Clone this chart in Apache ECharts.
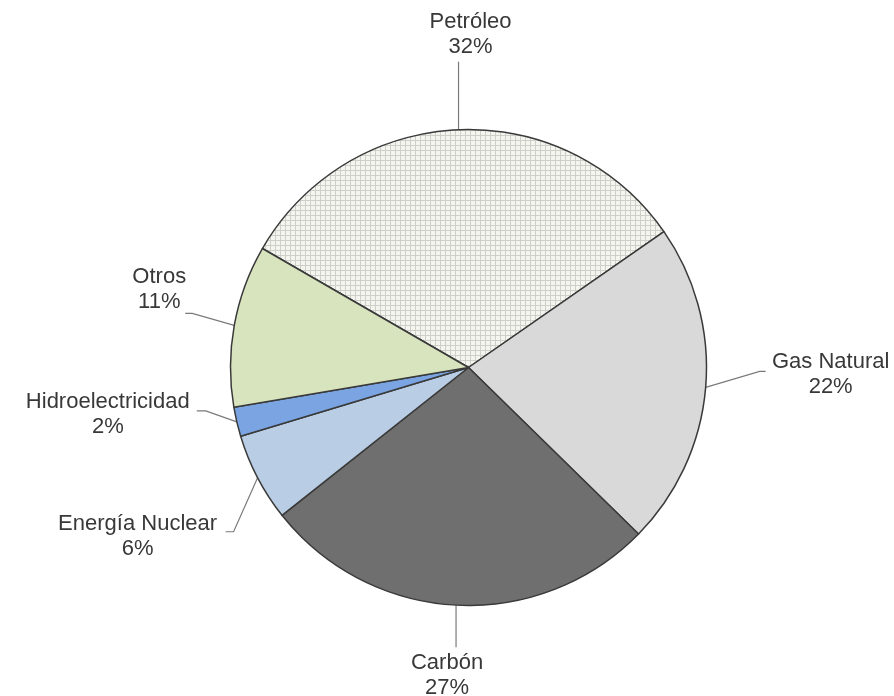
<!DOCTYPE html>
<html>
<head>
<meta charset="utf-8">
<style>
  html, body { margin: 0; padding: 0; background: #ffffff; }
  #chart { width: 894px; height: 696px; }
</style>
<script src="https://cdn.jsdelivr.net/npm/echarts@6/dist/echarts.min.js"></script>
</head>
<body>
<div id="chart"></div>
<script>
// Consumo mundial de energía primaria por fuente (%)
const categories = ['Petróleo', 'Gas Natural', 'Carbón', 'Energía Nuclear', 'Hidroelectricidad', 'Otros'];
const shares = [32, 22, 27, 6, 2, 11];

// Fine cross-hatch fill used for the oil slice
function hatchPattern() {
  const c = document.createElement('canvas');
  c.width = 5; c.height = 5;
  const g = c.getContext('2d');
  g.fillStyle = '#f3f5ee';
  g.fillRect(0, 0, 5, 5);
  g.fillStyle = '#cdcfc8';
  g.fillRect(0, 0, 5, 1);
  g.fillRect(0, 0, 1, 5);
  return { image: c, repeat: 'repeat' };
}

const fills = [hatchPattern(), '#d9d9d9', '#6f6f6f', '#b9cde5', '#7ba5e2', '#d7e4bd'];

// Label placement relative to the rim point of each slice:
// text block centre and leader-line bend points
const labelSpots = [
  { c: [12, -95],  line: [[0, -68]] },
  { c: [125, -13], line: [[54, -16], [60, -16]] },
  { c: [-9, 70],   line: [[0, 42]] },
  { c: [-120, 59], line: [[-24, 54], [-32, 54]] },
  { c: [-129, -7], line: [[-31, -11], [-40, -11]] },
  { c: [-75, -36], line: [[-42, -12], [-49, -12]] }
];

const chart = echarts.init(document.getElementById('chart'), null, { renderer: 'canvas' });

chart.setOption({
  animation: false,
  backgroundColor: '#ffffff',
  series: [{
    type: 'pie',
    center: [468.5, 367.5],
    radius: 238,
    startAngle: 150,
    clockwise: true,
    avoidLabelOverlap: false,
    data: categories.map((name, i) => ({
      name: name,
      value: shares[i],
      itemStyle: { color: fills[i] }
    })),
    itemStyle: { borderColor: '#3a3a3a', borderWidth: 1.5 },
    label: {
      show: true,
      position: 'outside',
      formatter: '{b}\n{c}%',
      fontFamily: 'Liberation Sans, Arial, sans-serif',
      fontSize: 22,
      lineHeight: 25,
      color: '#383838',
      align: 'center'
    },
    labelLine: {
      show: true,
      length: 20,
      length2: 10,
      lineStyle: { color: '#7a7a7a', width: 1.2 }
    },
    emphasis: { disabled: true },
    labelLayout: function (params) {
      const spot = labelSpots[params.dataIndex];
      const p = params.labelLinePoints[0];
      const pts = [[p[0], p[1]]].concat(spot.line.map(o => [p[0] + o[0], p[1] + o[1]]));
      return {
        x: p[0] + spot.c[0],
        y: p[1] + spot.c[1],
        align: 'center',
        verticalAlign: 'middle',
        labelLinePoints: pts
      };
    }
  }]
});
</script>
</body>
</html>
